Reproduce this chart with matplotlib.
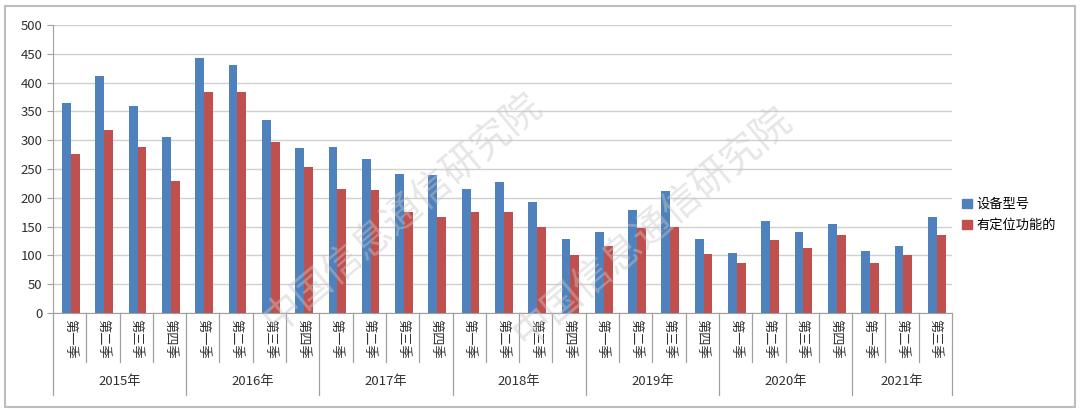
import matplotlib
matplotlib.use("Agg")
import matplotlib.pyplot as plt
from matplotlib.patches import Rectangle
from matplotlib.lines import Line2D
import numpy as np

plt.rcParams['font.family'] = ['Noto Sans CJK SC', 'DejaVu Sans']

years = ["2015年", "2016年", "2017年", "2018年", "2019年", "2020年", "2021年"]
quarters_per_year = [4, 4, 4, 4, 4, 4, 3]
quarter_names = ["第一季", "第二季", "第三季", "第四季"]
series_names = ["设备型号", "有定位功能的"]
device_models = [365, 411, 360, 305, 443, 431, 335, 286, 289, 267, 241, 239,
                 216, 228, 193, 128, 141, 178, 212, 128, 105, 159, 140, 155,
                 107, 116, 166]
with_location = [276, 318, 289, 230, 384, 383, 297, 253, 216, 213, 176, 166,
                 175, 175, 150, 101, 116, 147, 150, 103, 87, 126, 112, 135,
                 87, 101, 135]

labels = []
for n in quarters_per_year:
    labels += quarter_names[:n]
N = len(labels)

W, H = 1080, 413
fig = plt.figure(figsize=(W / 100, H / 100), dpi=100)
left, right, top, bottom = 53, 952, 25, 313
ax = fig.add_axes([left / W, 1 - bottom / H, (right - left) / W, (bottom - top) / H])

x = np.arange(N)
bw = 0.265
blue = "#4F81BD"
red = "#C0504D"
ax.bar(x - bw / 2 + 0.04, device_models, bw, color=blue, zorder=3)
ax.bar(x + bw / 2 + 0.04, with_location, bw, color=red, zorder=3)

ax.set_xlim(-0.5, N - 0.5)
ax.set_ylim(0, 500)
ax.set_yticks(range(0, 501, 50))
ax.yaxis.grid(True, color="#D0D0D0", linewidth=1.0, zorder=0)
ax.tick_params(axis="y", labelsize=9.5, colors="#404040", length=4, color="#A0A0A0")
for lbl in ax.get_yticklabels():
    lbl.set_color("#303030")
ax.set_xticks([])
for s in ["top", "right"]:
    ax.spines[s].set_visible(False)
ax.spines["left"].set_color("#A0A0A0")
ax.spines["bottom"].set_color("#A0A0A0")

trans = ax.get_xaxis_transform()
ax_h_px = bottom - top
def ay(px):
    # pixel y (from top of figure) to axes fraction
    return (bottom - px) / ax_h_px

# quarter labels
for i, lab in enumerate(labels):
    ax.text(i, ay(319), lab, transform=trans, rotation=270, ha="center", va="top",
            fontsize=9.5, color="#303030", clip_on=False)

# separators
boundaries = np.cumsum([0] + quarters_per_year)
year_bounds = set(boundaries.tolist())
for b in range(N + 1):
    xb = b - 0.5
    yend = ay(395) if b in year_bounds else ay(362)
    ax.add_line(Line2D([xb, xb], [0, yend], transform=trans, color="#A0A0A0",
                       linewidth=0.9, clip_on=False))

# year labels
for k, yname in enumerate(years):
    c = (boundaries[k] + boundaries[k + 1] - 1) / 2
    ax.text(c, ay(381), yname, transform=trans, ha="center", va="center",
            fontsize=9.5, color="#303030", clip_on=False)

# legend
handles = [Rectangle((0, 0), 1, 1, color=blue), Rectangle((0, 0), 1, 1, color=red)]
fig.legend(handles, series_names, loc="center left", bbox_to_anchor=(957 / W, 1 - 215 / H),
           frameon=False, fontsize=9.5, handlelength=0.7, handleheight=0.7,
           handletextpad=0.4, labelspacing=0.6, borderaxespad=0)

# watermark
for cx, cy in [(402, 212), (652, 226)]:
    fig.text(cx / W, 1 - cy / H, "中国信息通信研究院", rotation=40, ha="center", va="center",
             fontsize=28, color="#C8C8C8", alpha=0.45, zorder=10)

# outer border
fig.patches.append(Rectangle((5 / W, 6 / H), 1070 / W, 401 / H, transform=fig.transFigure,
                             fill=False, edgecolor="#BDBDBD", linewidth=1.5))

fig.savefig("out.png", dpi=100)
